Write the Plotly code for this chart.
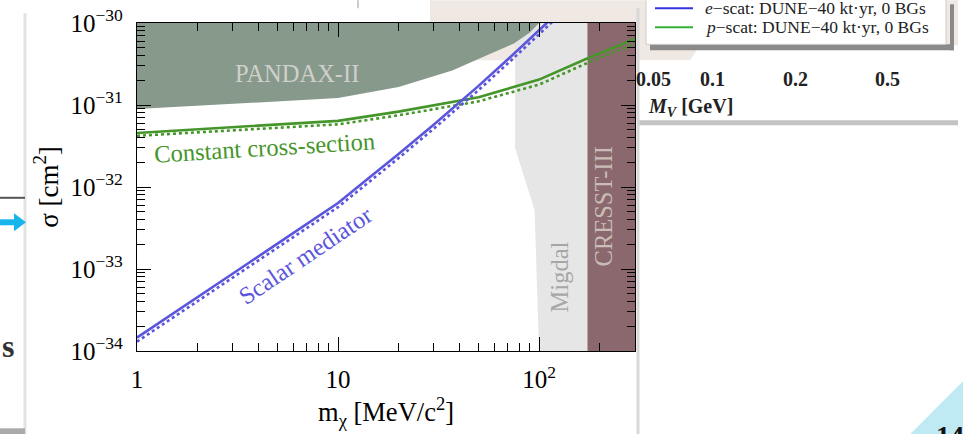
import numpy as np
import plotly.graph_objects as go

# Dark-matter mass (MeV/c^2) and cross-section limits (cm^2)
scalar_mass = [1, 1.5, 2, 3, 5, 7, 10, 15, 20, 30, 40, 50, 70, 100, 130]
scalar_sigma = [1.455e-34, 2.85e-34, 4.54e-34, 8.81e-34, 2.04e-33, 3.55e-33, 6.38e-33,
                1.43e-32, 2.52e-32, 5.79e-32, 1.06e-31, 1.71e-31, 3.61e-31, 8.11e-31, 1.49e-30]
scalar_sigma_alt = [1.30e-34, 2.54e-34, 4.05e-34, 7.85e-34, 1.82e-33, 3.16e-33, 5.69e-33,
                    1.27e-32, 2.25e-32, 5.16e-32, 9.45e-32, 1.52e-31, 3.22e-31, 7.23e-31, 1.33e-30]

const_mass = [1, 10, 20, 50, 100, 170, 300]
const_sigma = [4.56e-32, 6.41e-32, 8.30e-32, 1.245e-31, 2.04e-31, 3.61e-31, 6.41e-31]
const_sigma_alt = [4.21e-32, 5.81e-32, 7.48e-32, 1.109e-31, 1.774e-31, 3.18e-31, 5.58e-31]

# Excluded regions
pandax_mass = [1, 10, 20, 27, 37, 55, 75, 90, 100, 1]
pandax_sigma = [8.93e-32, 1.213e-31, 1.663e-31, 2.08e-31, 2.636e-31, 4.04e-31, 5.62e-31,
                7.66e-31, 1.0e-30, 1.0e-30]
migdal_mass = [76, 76, 95, 100, 100, 174, 174]
migdal_sigma = [1e-30, 3e-32, 5.2e-33, 1.6e-34, 1e-34, 1e-34, 1e-30]
cresst_mass = [174, 174, 300, 300]
cresst_sigma = [1e-30, 1e-34, 1e-34, 1e-30]

x_tickvals = [1, 10, 100]
x_ticktext = ["1", "10", "10<sup>2</sup>"]
x_minor = [2, 3, 4, 5, 6, 7, 8, 9, 20, 30, 40, 50, 60, 70, 80, 90, 200, 300]
y_tickvals = [1e-34, 1e-33, 1e-32, 1e-31, 1e-30]
y_ticktext = ["10<sup>\u221234</sup>", "10<sup>\u221233</sup>", "10<sup>\u221232</sup>",
              "10<sup>\u221231</sup>", "10<sup>\u221230</sup>"]
y_minor = [k * 10.0 ** e for e in range(-34, -30) for k in range(2, 10)]

GREEN = "#45962a"
BLUE = "#5b55dc"
SERIF = "Liberation Serif"

fig = go.Figure()
fig.add_trace(go.Scatter(x=migdal_mass, y=migdal_sigma, fill="toself", mode="lines",
                         line=dict(width=0), fillcolor="#e6e6e6", hoverinfo="skip"))
fig.add_trace(go.Scatter(x=cresst_mass, y=cresst_sigma, fill="toself", mode="lines",
                         line=dict(width=0), fillcolor="#8b686d", hoverinfo="skip"))
fig.add_trace(go.Scatter(x=pandax_mass, y=pandax_sigma, fill="toself", mode="lines",
                         line=dict(width=0), fillcolor="#86998a", hoverinfo="skip"))
fig.add_trace(go.Scatter(x=const_mass, y=const_sigma_alt, mode="lines",
                         line=dict(color=GREEN, width=2.6, dash="dot")))
fig.add_trace(go.Scatter(x=const_mass, y=const_sigma, mode="lines",
                         line=dict(color=GREEN, width=2.6)))
fig.add_trace(go.Scatter(x=scalar_mass, y=scalar_sigma_alt, mode="lines",
                         line=dict(color=BLUE, width=2.6, dash="dot")))
fig.add_trace(go.Scatter(x=scalar_mass, y=scalar_sigma, mode="lines",
                         line=dict(color=BLUE, width=2.6)))

# Pixel helpers for slide decorations around the plot
L, R, T, B = 137, 635, 22.7, 350.7
def px(x):
    return (x - L) / (R - L)
def py(y):
    return (B - y) / (B - T)

shapes = []
def rect(x0, y0, x1, y1, color, layer="below", line=None):
    shapes.append(dict(type="rect", xref="paper", yref="paper", x0=px(x0), x1=px(x1),
                       y0=py(y1), y1=py(y0), fillcolor=color, layer=layer,
                       line=line or dict(width=0)))
def seg(x0, y0, x1, y1, color, w):
    shapes.append(dict(type="line", xref="paper", yref="paper", x0=px(x0), x1=px(x1),
                       y0=py(y0), y1=py(y1), line=dict(color=color, width=w), layer="below"))

# neighbouring panel at the top right
rect(430, 0, 958, 60, "#f0e8e3")
shapes.append(dict(type="path", xref="paper", yref="paper", fillcolor="#ffffff", line=dict(width=0),
                   path=f"M {px(700)} {py(45)} L {px(958)} {py(45)} L {px(958)} {py(120)} "
                        f"L {px(637)} {py(120)} L {px(637)} {py(60)} L {px(690)} {py(60)} Z",
                   layer="below"))
rect(637, 120, 958, 125, "#c4c4c4")
rect(950, 4, 954, 50, "#8a8a8a")
rect(650, 44, 954, 50, "#8a8a8a")
rect(646, -4, 946, 44, "#ffffff", line=dict(color="#cccccc", width=1))
seg(655, 8, 693, 8, "#3434e0", 2)
seg(655, 27, 693, 27, "#34b034", 2)
seg(358, 0, 358, 8, "#bbbbbb", 1.5)
# card outline shadows
seg(25, 13, 25, 434, "#e2e2e2", 3)
seg(638, 8, 638, 434, "#d8d8d8", 3)
# left slide fragments
seg(0, 197.5, 25, 197.5, "#555555", 2)
seg(0, 222, 16, 222, "#1ab4ec", 6)
shapes.append(dict(type="path", xref="paper", yref="paper", fillcolor="#1ab4ec", line=dict(width=0),
                   path=f"M {px(14)} {py(213)} L {px(26)} {py(222)} L {px(14)} {py(231)} Z", layer="below"))
rect(0, 428, 25, 434, "#aaaaaa")
# page corner
shapes.append(dict(type="path", xref="paper", yref="paper", fillcolor="#bfe9f3", line=dict(width=0),
                   path=f"M {px(910)} {py(434)} L {px(963)} {py(381)} L {px(963)} {py(434)} Z", layer="below"))

ann = []
def label(text, x, y, size, color, angle=0, **kw):
    ann.append(dict(text=text, x=np.log10(x), y=np.log10(y), xref="x", yref="y",
                    showarrow=False, textangle=angle, xanchor="center", yanchor="middle",
                    font=dict(family=SERIF, size=size, color=color), **kw))
def plabel(text, x, y, size, color="#222222", xanchor="center", yanchor="middle"):
    ann.append(dict(text=text, x=px(x), y=py(y), xref="paper", yref="paper",
                    showarrow=False, xanchor=xanchor, yanchor=yanchor,
                    font=dict(family=SERIF, size=size, color=color)))

label("PANDAX-II", 6.25, 2.43e-31, 24.5, "#cfcfcb")
label("Constant cross-section", 4.33, 3.0e-32, 24.5, GREEN, angle=-3.5)
label("Scalar mediator", 6.85, 1.47e-33, 24.5, BLUE, angle=-34)
label("Migdal", 127, 8.1e-34, 24.5, "#a6a6a6", angle=-90)
label("CRESST-III", 208, 5.8e-33, 24.5, "#c9bdb5", angle=-90)

plabel("<i>e</i>\u2212scat: DUNE\u221240 kt\u00b7yr, 0 BGs", 703, 8, 17.5, xanchor="left")
plabel("<i>p</i>\u2212scat: DUNE\u221240 kt\u00b7yr, 0 BGs", 703, 27, 17.5, xanchor="left")
for t, xx in [("0.05", 653), ("0.1", 712), ("0.2", 795), ("0.5", 887)]:
    plabel(f"<b>{t}</b>", xx, 79, 20)
plabel("<b><i>M<sub>V</sub></i> [GeV]</b>", 690, 107, 20)
plabel("<b>s</b>", 8, 346, 32, "#333333")
plabel("<b>14</b>", 950, 418, 28, "#111111", yanchor="top")

axis_common = dict(showline=True, linecolor="black", linewidth=1.3, mirror="ticks",
                   ticks="inside", ticklen=14, tickwidth=1, tickcolor="black",
                   showgrid=False, zeroline=False, automargin=False,
                   tickfont=dict(family=SERIF, size=25, color="black"))

fig.update_layout(
    width=963, height=434,
    margin=dict(l=L, r=963 - R, t=T, b=434 - B, autoexpand=False),
    paper_bgcolor="white", plot_bgcolor="white",
    showlegend=False,
    shapes=shapes, annotations=ann,
    xaxis=dict(type="log", range=[0, np.log10(300)], tickmode="array",
               tickvals=x_tickvals, ticktext=x_ticktext, ticklabelstandoff=6,
               minor=dict(ticks="inside", ticklen=8, tickwidth=1, tickcolor="black",
                          tickmode="array", tickvals=x_minor, showgrid=False),
               title=dict(text="m<sub>\u03c7</sub> [MeV/c<sup>2</sup>]", standoff=8,
                          font=dict(family=SERIF, size=26.5, color="black")),
               **axis_common),
    yaxis=dict(type="log", range=[-34, -30], tickmode="array",
               tickvals=y_tickvals, ticktext=y_ticktext, ticklabelstandoff=8,
               minor=dict(ticks="inside", ticklen=8, tickwidth=1, tickcolor="black",
                          tickmode="array", tickvals=y_minor, showgrid=False),
               title=dict(text="\u03c3 [cm<sup>2</sup>]", standoff=4,
                          font=dict(family=SERIF, size=27, color="black")),
               **axis_common),
)

fig.write_html("out.html")
